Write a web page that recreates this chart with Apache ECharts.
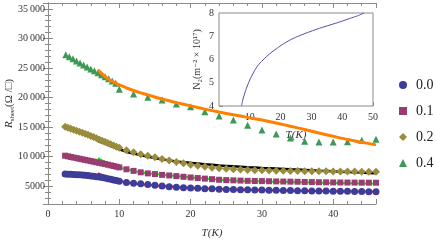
<!DOCTYPE html>
<html>
<head>
<meta charset="utf-8">
<script src="https://cdn.jsdelivr.net/npm/echarts@6/dist/echarts.min.js"></script>
<style>html,body{margin:0;padding:0;background:#fff}#c{width:436px;height:240px}</style>
</head>
<body>
<div id="c"></div>
<script>
// ---- data ----
var seriesNames = ['0.0', '0.1', '0.2', '0.4'];
var tDense = [2.4, 2.8, 3.2, 3.6, 4.0, 4.4, 4.8, 5.2, 5.6, 6.0, 6.4, 6.8, 7.2, 7.6, 8.0, 8.4, 8.8, 9.2, 9.6, 10.0];
var tSparse = [11, 12, 13, 14, 15, 16, 17, 18, 19, 20, 21, 22, 23, 24, 25, 26, 27, 28, 29, 30, 31, 32, 33, 34, 35, 36, 37, 38, 39, 40, 41, 42, 43, 44, 45, 46];

var r00Dense = [7070, 7050, 7020, 6990, 6960, 6930, 6890, 6850, 6800, 6750, 6690, 6620, 6550, 6470, 6380, 6280, 6180, 6070, 5960, 5850];
var r00Sparse = [5620, 5500, 5410, 5300, 5180, 5050, 4930, 4840, 4760, 4700, 4650, 4600, 4560, 4510, 4470, 4450, 4420, 4400, 4380, 4360, 4340, 4310, 4290, 4270, 4250, 4240, 4220, 4200, 4190, 4170, 4160, 4140, 4120, 4110, 4090, 4080];

var r01Dense = [10170, 10060, 9960, 9860, 9760, 9660, 9560, 9460, 9360, 9260, 9160, 9060, 8960, 8860, 8760, 8650, 8540, 8430, 8310, 8190];
var r01Sparse = [7870, 7600, 7360, 7180, 7060, 6930, 6830, 6720, 6600, 6490, 6390, 6290, 6200, 6100, 6040, 6000, 5960, 5920, 5890, 5870, 5850, 5820, 5800, 5780, 5760, 5730, 5710, 5680, 5670, 5650, 5640, 5630, 5620, 5610, 5605, 5600];

var r02Dense = [15080, 14900, 14720, 14550, 14380, 14210, 14040, 13870, 13700, 13520, 13330, 13130, 12930, 12720, 12510, 12300, 12100, 11900, 11700, 11500];
var r02Sparse = [11100, 10750, 10420, 10150, 9900, 9620, 9370, 9120, 8890, 8660, 8460, 8300, 8150, 8030, 7950, 7880, 7820, 7770, 7730, 7690, 7660, 7630, 7610, 7590, 7570, 7550, 7540, 7530, 7520, 7510, 7500, 7490, 7480, 7470, 7470, 7460];

var t04 = [2.5, 3.0, 3.5, 4.0, 4.5, 5.0, 5.5, 6.0, 6.5, 7.0, 7.5, 8.0, 8.5, 9.0, 9.5, 10, 12, 14, 16, 18, 20, 22, 24, 26, 28, 30, 32, 34, 36, 38, 40, 42, 44, 46];
var r04 = [27250, 26900, 26550, 26200, 25850, 25500, 25170, 24850, 24520, 24190, 23860, 23520, 23170, 22800, 22420, 21400, 20600, 20050, 19600, 18900, 18460, 17610, 16880, 16210, 15300, 14500, 13850, 13150, 12600, 12500, 12500, 12550, 12800, 12950];

// fit curves
var tFit = [7, 7.5, 8, 8.5, 9, 9.5, 10, 11, 12, 13, 14, 16, 18, 20, 22, 24, 26, 28, 30, 32, 34, 36, 38, 40, 42, 44, 46];
var fitRed = [7200, 6950, 6720, 6500, 6290, 6090, 5910, 5620, 5460, 5340, 5230, 5030, 4860, 4720, 4610, 4520, 4450, 4390, 4340, 4300, 4260, 4220, 4190, 4160, 4130, 4100, 4070];
var fitGreen = [9750, 9430, 9150, 8880, 8640, 8410, 8200, 7870, 7600, 7380, 7200, 6950, 6720, 6500, 6300, 6120, 5990, 5900, 5840, 5780, 5720, 5660, 5610, 5560, 5520, 5480, 5450];
var fitBlack = [12650, 12420, 12200, 11950, 11700, 11470, 11250, 10850, 10520, 10250, 10000, 9550, 9200, 8950, 8720, 8530, 8370, 8230, 8100, 7990, 7870, 7760, 7640, 7530, 7420, 7310, 7200];
var fitOrange = [24700, 24100, 23550, 23100, 22750, 22430, 22150, 21650, 21200, 20800, 20450, 19750, 19150, 18600, 18050, 17550, 17100, 16650, 16200, 15700, 15150, 14600, 14000, 13450, 12900, 12450, 12000];

// inset
var insetT = [7.3, 7.8, 8.4, 8.9, 10, 11.1, 12.5, 14.3, 16.5, 18.6, 21, 24, 27, 30.4, 33.5, 36.9, 40, 42.3, 45, 47.1];
var insetN = [4.0, 4.3, 4.56, 4.76, 5.12, 5.41, 5.72, 5.98, 6.25, 6.46, 6.68, 6.9, 7.07, 7.24, 7.38, 7.52, 7.65, 7.76, 7.88, 8.0];

var xMajor = [0, 10, 20, 30, 40];
var yMajor = [5000, 10000, 15000, 20000, 25000, 30000, 35000];

// ---- build ----
function pairs(xs, ys) { return xs.map(function (x, i) { return [x, ys[i]]; }); }
function both(d1, s1, d2, s2) { return pairs(d1, s1).concat(pairs(d2, s2)); }

var serif = '"Liberation Serif", "DejaVu Serif", serif';
var frame = '#8a8a8a';
var labelColor = '#333';

function fmtY(v) {
  if (yMajor.indexOf(v) < 0) return '';
  if (v >= 10000) { var s = String(v); return s.slice(0, s.length - 3) + '\u2009' + s.slice(s.length - 3); }
  return String(v);
}

var markerColors = ['#3d3d99', '#993d71', '#998c3d', '#3d9956'];

var option = {
  animation: false,
  backgroundColor: '#fff',
  grid: [
    { left: 48, top: 3, width: 328, height: 201, show: false, outerBoundsMode: 'none', containLabel: false },
    { left: 219, top: 13, width: 154, height: 93, show: true, borderColor: frame, borderWidth: 1, backgroundColor: '#fff', z: 5, outerBoundsMode: 'none', containLabel: false }
  ],
  legend: {
    data: seriesNames,
    orient: 'vertical',
    left: 394, top: 72,
    itemWidth: 8, itemHeight: 8, itemGap: 10,
    textStyle: { fontFamily: serif, fontSize: 14, color: '#222', lineHeight: 16, padding: [0, 0, 0, 4] }
  },
  xAxis: [
    { gridIndex: 0, type: 'value', position: 'bottom', min: 0, max: 46, interval: 10,
      axisLine: { lineStyle: { color: frame } },
      axisTick: { inside: true, length: 5, lineStyle: { color: frame } },
      axisLabel: { margin: 5, fontFamily: serif, fontSize: 10, color: labelColor,
        formatter: function (v) { return xMajor.indexOf(v) >= 0 ? String(v) : ''; } },
      splitLine: { show: false },
      name: 'T(K)', nameLocation: 'middle', nameGap: 24, nameMoveOverlap: false,
      nameTextStyle: { fontFamily: serif, fontStyle: 'italic', fontSize: 11, color: labelColor } },
    { gridIndex: 0, type: 'value', position: 'bottom', min: 0, max: 46, interval: 2,
      axisLine: { show: false }, axisLabel: { show: false }, splitLine: { show: false },
      axisTick: { inside: true, length: 3, lineStyle: { color: frame } } },
    { gridIndex: 0, type: 'value', position: 'top', min: 0, max: 46, interval: 10,
      axisLine: { lineStyle: { color: frame } }, axisLabel: { show: false }, splitLine: { show: false },
      axisTick: { inside: true, length: 5, lineStyle: { color: frame } } },
    { gridIndex: 0, type: 'value', position: 'top', min: 0, max: 46, interval: 2,
      axisLine: { show: false }, axisLabel: { show: false }, splitLine: { show: false },
      axisTick: { inside: true, length: 3, lineStyle: { color: frame } } },
    { gridIndex: 1, type: 'value', position: 'bottom', min: 0, max: 50, interval: 10,
      axisLine: { show: false },
      axisTick: { inside: true, length: 4, lineStyle: { color: frame } },
      minorTick: { show: true, splitNumber: 5, length: 2, lineStyle: { color: frame } },
      axisLabel: { margin: 6, fontFamily: serif, fontSize: 10, color: labelColor,
        formatter: function (v) { return v === 0 ? '' : String(v); } },
      splitLine: { show: false },
      name: 'T(K)', nameLocation: 'middle', nameGap: 24, nameMoveOverlap: false,
      nameTextStyle: { fontFamily: serif, fontStyle: 'italic', fontSize: 11, color: labelColor } }
  ],
  yAxis: [
    { gridIndex: 0, type: 'value', position: 'left', min: 2000, max: 36000, minInterval: 5000, maxInterval: 5000,
      axisLine: { show: true, lineStyle: { color: frame } },
      axisTick: { show: true, inside: true, length: 5, lineStyle: { color: frame } },
      axisLabel: { margin: 3, fontFamily: serif, fontSize: 10, color: labelColor, formatter: fmtY },
      splitLine: { show: false },
      name: '{r|R}{s|sheet}{n|(Ω /□)}', nameLocation: 'middle', nameGap: 32, nameMoveOverlap: false,
      nameTextStyle: { rich: {
        r: { fontFamily: serif, fontStyle: 'italic', fontSize: 11, color: labelColor, lineHeight: 14, verticalAlign: 'middle' },
        s: { fontFamily: serif, fontSize: 7, color: labelColor, lineHeight: 14, verticalAlign: 'bottom' },
        n: { fontFamily: serif, fontSize: 11, color: labelColor, lineHeight: 14, verticalAlign: 'middle' } } } },
    { gridIndex: 0, type: 'value', position: 'left', min: 2000, max: 36000, interval: 1000,
      axisLine: { show: false }, axisLabel: { show: false }, splitLine: { show: false },
      axisTick: { show: true, inside: true, length: 3, lineStyle: { color: frame } } },
    { gridIndex: 0, type: 'value', position: 'right', min: 2000, max: 36000, minInterval: 5000, maxInterval: 5000,
      axisLine: { show: true, lineStyle: { color: frame } }, axisLabel: { show: false }, splitLine: { show: false },
      axisTick: { show: true, inside: true, length: 5, lineStyle: { color: frame } } },
    { gridIndex: 0, type: 'value', position: 'right', min: 2000, max: 36000, interval: 1000,
      axisLine: { show: false }, axisLabel: { show: false }, splitLine: { show: false },
      axisTick: { show: true, inside: true, length: 3, lineStyle: { color: frame } } },
    { gridIndex: 1, type: 'value', position: 'left', min: 4, max: 8, interval: 1,
      axisLine: { show: false },
      axisTick: { show: true, inside: true, length: 4, lineStyle: { color: frame } },
      minorTick: { show: true, splitNumber: 5, length: 2, lineStyle: { color: frame } },
      axisLabel: { margin: 5, fontFamily: serif, fontSize: 10, color: labelColor },
      splitLine: { show: false },
      name: 'N₂(m⁻² × 10¹⁷)', nameLocation: 'middle', nameGap: 17, nameMoveOverlap: false,
      nameTextStyle: { fontFamily: serif, fontSize: 10, color: labelColor } }
  ],
  series: [
    { name: 'fit0', type: 'line', xAxisIndex: 0, yAxisIndex: 0, data: pairs(tFit, fitRed), smooth: 0.3, showSymbol: false,
      lineStyle: { color: '#ff0000', width: 2 }, z: 2, silent: true },
    { name: 'fit1', type: 'line', xAxisIndex: 0, yAxisIndex: 0, data: pairs(tFit, fitGreen), smooth: 0.3, showSymbol: false,
      lineStyle: { color: '#00ee00', width: 2 }, z: 2, silent: true },
    { name: 'fit2', type: 'line', xAxisIndex: 0, yAxisIndex: 0, data: pairs(tFit, fitBlack), smooth: 0.3, showSymbol: false,
      lineStyle: { color: '#000000', width: 2.5 }, z: 2, silent: true },
    { name: 'fit4', type: 'line', xAxisIndex: 0, yAxisIndex: 0, data: pairs(tFit, fitOrange), smooth: 0.3, showSymbol: false,
      lineStyle: { color: '#ff8000', width: 3 }, z: 4, silent: true },
    { name: seriesNames[0], type: 'scatter', xAxisIndex: 0, yAxisIndex: 0, data: both(tDense, r00Dense, tSparse, r00Sparse),
      symbol: 'circle', symbolSize: 7, itemStyle: { color: markerColors[0], opacity: 1 }, z: 3 },
    { name: seriesNames[1], type: 'scatter', xAxisIndex: 0, yAxisIndex: 0, data: both(tDense, r01Dense, tSparse, r01Sparse),
      symbol: 'rect', symbolSize: 6, itemStyle: { color: markerColors[1], opacity: 1 }, z: 3 },
    { name: seriesNames[2], type: 'scatter', xAxisIndex: 0, yAxisIndex: 0, data: both(tDense, r02Dense, tSparse, r02Sparse),
      symbol: 'diamond', symbolSize: 8, itemStyle: { color: markerColors[2], opacity: 1 }, z: 3 },
    { name: seriesNames[3], type: 'scatter', xAxisIndex: 0, yAxisIndex: 0, data: pairs(t04, r04),
      symbol: 'triangle', symbolSize: 7, itemStyle: { color: markerColors[3], opacity: 1 }, z: 3 },
    { name: 'inset', type: 'line', xAxisIndex: 4, yAxisIndex: 4, data: pairs(insetT, insetN), smooth: 0.4, showSymbol: false,
      lineStyle: { color: '#5050aa', width: 1 }, z: 6, silent: true }
  ]
};

var chart = echarts.init(document.getElementById('c'), null, { renderer: 'canvas' });
chart.setOption(option);
</script>
</body>
</html>
